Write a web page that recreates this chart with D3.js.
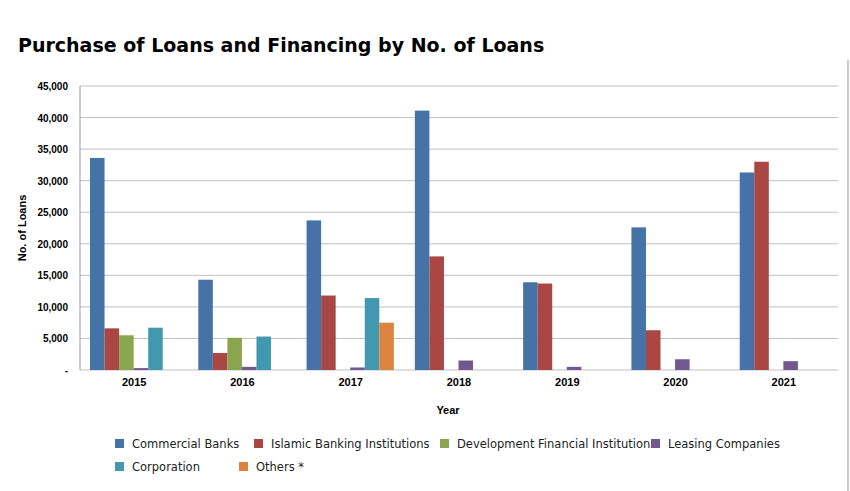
<!DOCTYPE html>
<html lang="en">
<head>
<meta charset="utf-8">
<title>Purchase of Loans and Financing</title>
<style>
  body { margin: 0; background: white; font-family: "Liberation Sans", Arial, sans-serif; }
</style>
</head>
<body>
<svg id="chart" width="850" height="491"></svg>
<script src="https://cdnjs.cloudflare.com/ajax/libs/d3/7.8.5/d3.min.js"></script>
<script>
var years = ["2015", "2016", "2017", "2018", "2019", "2020", "2021"];
var seriesNames = ["Commercial Banks", "Islamic Banking Institutions", "Development Financial Institutions",
                   "Leasing Companies", "Corporation", "Others *"];
var colors = ["#4572a7", "#aa4643", "#89a54e", "#71588f", "#4198af", "#db843d"];
var commercialBanks = [33600, 14300, 23700, 41100, 13900, 22600, 31300];
var islamic = [6600, 2700, 11800, 18000, 13700, 6300, 33000];
var development = [5500, 5100, 0, 0, 0, 0, 0];
var leasing = [300, 500, 400, 1500, 500, 1700, 1400];
var corporation = [6700, 5300, 11400, 0, 0, 0, 0];
var others = [0, 0, 7500, 0, 0, 0, 0];
var yTicks = [0, 5000, 10000, 15000, 20000, 25000, 30000, 35000, 40000, 45000];

var allSeries = [commercialBanks, islamic, development, leasing, corporation, others];

var svg = d3.select("#chart");
var plotL = 80, plotR = 838, plotT = 86, plotB = 370;

svg.append("text").attr("x", 18).attr("y", 52)
  .attr("font-family", "DejaVu Sans").attr("font-weight", "bold").attr("font-size", 19)
  .text("Purchase of Loans and Financing by No. of Loans");

svg.append("line").attr("x1", 848).attr("x2", 848).attr("y1", 60).attr("y2", 491)
  .attr("stroke", "#999");

var x0 = d3.scaleBand().domain(years).range([plotL, plotR]);
var x1 = d3.scaleBand().domain(d3.range(6)).range([10, x0.bandwidth() - 11]);
var y = d3.scaleLinear().domain([0, 45000]).range([plotB, plotT]);

svg.append("g").selectAll("line").data(yTicks).join("line")
  .attr("x1", plotL).attr("x2", plotR)
  .attr("y1", d => y(d)).attr("y2", d => y(d))
  .attr("stroke", "#c0c0c0");

svg.append("g").selectAll("text").data(yTicks).join("text")
  .attr("x", plotL - 12).attr("y", d => y(d) + 4)
  .attr("text-anchor", "end").attr("font-size", 10).attr("font-weight", "bold")
  .text(d => d === 0 ? "-" : d3.format(",")(d));

svg.append("line").attr("x1", plotL).attr("x2", plotL).attr("y1", plotT).attr("y2", plotB).attr("stroke", "#999");

var groups = svg.append("g").selectAll("g").data(years).join("g")
  .attr("transform", d => "translate(" + x0(d) + ",0)");
groups.selectAll("rect").data((d, i) => allSeries.map((s, k) => ({k: k, v: s[i]})))
  .join("rect")
  .attr("x", d => x1(d.k)).attr("width", x1.bandwidth())
  .attr("y", d => y(d.v)).attr("height", d => plotB - y(d.v))
  .attr("fill", d => colors[d.k]);

svg.append("g").selectAll("text").data(years).join("text")
  .attr("x", d => x0(d) + x0.bandwidth() / 2).attr("y", plotB + 16)
  .attr("text-anchor", "middle").attr("font-size", 11).attr("font-weight", "bold")
  .text(d => d);

svg.append("text").attr("x", 448).attr("y", 414).attr("text-anchor", "middle")
  .attr("font-size", 11).attr("font-weight", "bold").text("Year");
svg.append("text").attr("transform", "translate(26," + ((plotT + plotB) / 2) + ") rotate(-90)")
  .attr("text-anchor", "middle").attr("font-size", 11).attr("font-weight", "bold").text("No. of Loans");

var legendPos = [[115, 444], [254, 444], [440, 444], [651, 444], [115, 467], [239, 467]];
var leg = svg.append("g").selectAll("g").data(seriesNames).join("g")
  .attr("transform", (d, i) => "translate(" + legendPos[i][0] + "," + legendPos[i][1] + ")");
leg.append("rect").attr("x", 0).attr("y", -5).attr("width", 9).attr("height", 9)
  .attr("fill", (d, i) => colors[i]);
leg.append("text").attr("x", 17).attr("y", 4).attr("font-size", 11.5)
  .attr("font-family", "DejaVu Sans").attr("fill", "#222").text(d => d);
</script>
</body>
</html>
